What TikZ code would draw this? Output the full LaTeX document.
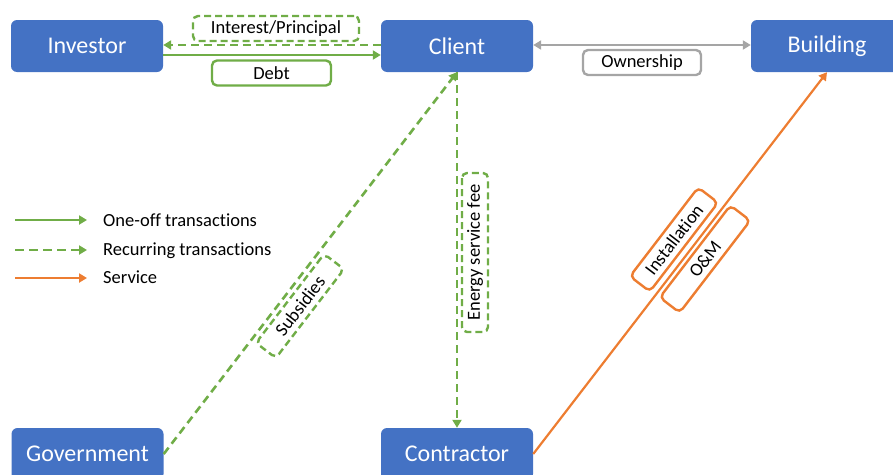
\documentclass[tikz,border=0pt]{standalone}
\usepackage{fontspec}
\setmainfont[Ligatures=NoCommon]{Carlito}
\usetikzlibrary{arrows.meta}
\definecolor{boxblue}{HTML}{4472C4}
\definecolor{flowgreen}{HTML}{70AD47}
\definecolor{svcorange}{HTML}{ED7D31}
\definecolor{owngray}{HTML}{A5A5A5}
\begin{document}
\begin{tikzpicture}[x=1pt,y=-1pt,
  party/.style={fill=boxblue, rounded corners=6pt, minimum width=152pt,
    minimum height=52pt, inner sep=0pt, text=white,
    font=\fontsize{24}{28}\selectfont},
  tip/.style={-{Triangle[length=8pt,width=9pt]}},
  oneoff/.style={draw=flowgreen, line width=2.6pt, tip},
  recur/.style={draw=flowgreen, line width=2.6pt, dash pattern=on 8pt off 5pt, tip},
  svc/.style={draw=svcorange, line width=2.2pt, tip},
  own/.style={draw=owngray, line width=2.2pt,
    {Triangle[length=8pt,width=9pt]}-{Triangle[length=8pt,width=9pt]}},
  lbl/.style={rounded corners=5pt, line width=2.4pt, fill=white,
    minimum height=25pt, inner sep=0pt, text=black,
    font=\fontsize{18.5}{21}\selectfont},
  lblone/.style={lbl, draw=flowgreen},
  lblrec/.style={lbl, draw=flowgreen, dash pattern=on 7pt off 4pt},
  lblsvc/.style={lbl, draw=svcorange},
  lblown/.style={lbl, draw=owngray},
  legtext/.style={anchor=base west, inner sep=0pt, text=black,
    font=\fontsize{18.5}{22}\selectfont}
]
\useasboundingbox (0,0) rectangle (893,474);
\clip (0,0) rectangle (893,474);

% parties
\node[party] (inv) at (87,46)   {Investor};
\node[party] (cli) at (457,46)  {Client};
\node[party] (bld) at (827,46)  {Building};
\node[party] (gov) at (87.5,454) {Government};
\node[party] (con) at (457,454) {Contractor};

% flows between parties
\draw[recur] ([yshift=1pt]cli.west) -- ([yshift=1pt]inv.east);
\draw[oneoff] ([yshift=-9pt]inv.east) -- ([yshift=-9pt]cli.west);
\draw[own] ([yshift=1pt]cli.east) -- ([yshift=1pt]bld.west);
\draw[recur] (gov.east) -- (cli.south);
\draw[recur] (cli.south) -- (con.north);
\draw[svc] (con.east) -- (bld.south);

% flow labels
\node[lblrec, minimum width=166pt] (lint) at (276,28.5) {Interest/Principal};
\node[lblone, minimum width=119pt] (ldebt) at (271.5,73) {Debt};
\node[lblown, minimum width=118pt] (lown) at (642,62.5) {Ownership};
\node[lblrec, minimum width=159pt, minimum height=26pt, rotate=90] (lfee) at (475,252.5) {Energy service fee};
\node[lblrec, minimum width=112pt, rotate=52.5] (lsub) at (300,306) {Subsidies};
\node[lblsvc, minimum width=112pt, rotate=52.5] (linst) at (674,239.5) {Installation};
\node[lblsvc, minimum width=116pt, rotate=52.5] (lom) at (705,259) {O\&M};

% legend
\coordinate (k1a) at (15,220); \coordinate (k1b) at (87,220);
\coordinate (k2a) at (15,250); \coordinate (k2b) at (87,250);
\coordinate (k3a) at (15,278); \coordinate (k3b) at (87,278);
\draw[oneoff] (k1a) -- (k1b);
\draw[recur, dash pattern=on 9pt off 5pt] (k2a) -- (k2b);
\draw[svc] (k3a) -- (k3b);
\node[legtext] (t1) at (103,226.5) {One-off transactions};
\node[legtext] (t2) at (103,255.5) {Recurring transactions};
\node[legtext] (t3) at (103,283.5) {Service};
\end{tikzpicture}
\end{document}
